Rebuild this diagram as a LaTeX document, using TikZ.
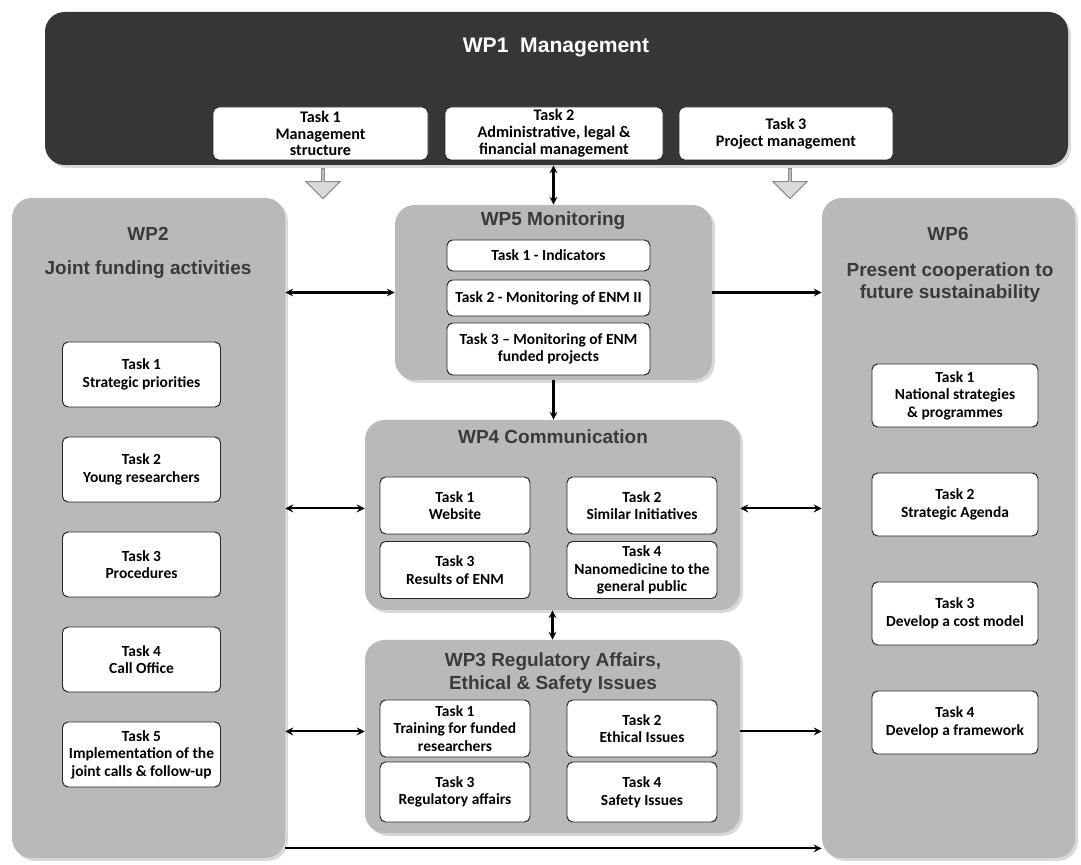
\documentclass[tikz,border=0pt]{standalone}
\usepackage{fontspec}
\setmainfont{Carlito}
\newfontfamily\headfont{Liberation Sans}
\usetikzlibrary{shapes.arrows,shadows,calc}

\definecolor{wpdark}{HTML}{363636}
\definecolor{wpgray}{HTML}{B9B9B9}
\definecolor{wptext}{HTML}{3A3A3A}
\definecolor{blockfill}{HTML}{DADADA}
\definecolor{blockline}{HTML}{8C8C8C}

\newcommand{\pxl}{0.025cm}

\tikzset{
	wpbox/.style 2 args={draw=none, fill=wpgray, rounded corners=14pt, minimum width=#1*\pxl, minimum height=#2*\pxl, inner sep=0pt, drop shadow={opacity=0.3, shadow xshift=2pt, shadow yshift=-2pt}},
	taskbox/.style 2 args={draw=black!85, fill=white, rounded corners=4pt, line width=0.7pt, minimum width=#1*\pxl, minimum height=#2*\pxl, inner sep=0.5pt, align=center, font=\bfseries\fontsize{11}{12.5}\selectfont},
	wptitle/.style={text=wptext, align=center, font=\headfont\bfseries\fontsize{13.5}{16}\selectfont},
	conn/.style={line width=1.5pt, >=stealth},
	blockarrow/.style={single arrow, draw=blockline, fill=blockfill, line width=0.8pt, minimum width=34*\pxl, single arrow head extend=7*\pxl, minimum height=30*\pxl, inner sep=0pt, rotate=-90}
}

\begin{document}
\begin{tikzpicture}[x=0.025cm, y=-0.025cm]
	\path[use as bounding box, fill=white] (0,0) rectangle (1081,865);

	\node[wpbox={1023}{153}, fill=wpdark] (wp1) at (556.5,88.5) {};
	\node[wptitle, text=white, font=\headfont\bfseries\fontsize{15}{18}\selectfont] (wp1t) at (556,47) {WP1\ \ Management};
	\node[taskbox={215}{53}, font=\bfseries\fontsize{11.5}{12}\selectfont] (wp1t1) at (320.5,133.5) {Task 1\\Management\\structure};
	\node[taskbox={218}{53}, font=\bfseries\fontsize{11.5}{12}\selectfont] (wp1t2) at (554,133.5) {Task 2\\Administrative, legal \&\\financial management};
	\node[taskbox={214}{53}, font=\bfseries\fontsize{11.5}{12}\selectfont] (wp1t3) at (786,133.5) {Task 3\\Project management};

	\node[blockarrow] (ba1) at (323,183) {};
	\node[blockarrow] (ba2) at (790,183) {};

	\node[wpbox={273}{660}] (wp2) at (148.5,528) {};
	\node[wptitle] (wp2t) at (148,234) {WP2};
	\node[wptitle] (wp2s) at (148,270) {Joint funding activities};
	\node[taskbox={158}{65}] (wp2t1) at (141.5,374.5) {Task 1\\Strategic priorities};
	\node[taskbox={158}{65}] (wp2t2) at (141.5,469.5) {Task 2\\Young researchers};
	\node[taskbox={158}{65}] (wp2t3) at (141.5,564.5) {Task 3\\Procedures};
	\node[taskbox={158}{65}] (wp2t4) at (141.5,659.5) {Task 4\\Call Office};
	\node[taskbox={158}{65}] (wp2t5) at (141.5,754.5) {Task 5\\Implementation of the\\joint calls \& follow-up};

	\node[wpbox={253}{660}] (wp6) at (948.5,528) {};
	\node[wptitle] (wp6t) at (948,234) {WP6};
	\node[wptitle] (wp6s) at (950,282.5) {Present cooperation to\\future sustainability};
	\node[taskbox={166}{63}] (wp6t1) at (955,395.5) {Task 1\\National strategies\\\& programmes};
	\node[taskbox={166}{63}] (wp6t2) at (955,504.5) {Task 2\\Strategic Agenda};
	\node[taskbox={166}{63}] (wp6t3) at (955,613.5) {Task 3\\Develop a cost model};
	\node[taskbox={166}{63}] (wp6t4) at (955,722.5) {Task 4\\Develop a framework};

	\node[wpbox={317}{175}] (wp5) at (553.5,292.5) {};
	\node[wptitle] (wp5t) at (553,221) {WP5 Monitoring};
	\node[taskbox={203}{31}] (wp5t1) at (548.5,255.5) {Task 1 - Indicators};
	\node[taskbox={203}{36}] (wp5t2) at (548.5,298) {Task 2 - Monitoring of ENM II};
	\node[taskbox={203}{52}] (wp5t3) at (548.5,349) {Task 3 – Monitoring of ENM\\funded projects};

	\node[wpbox={375}{190}] (wp4) at (552.5,515) {};
	\node[wptitle] (wp4t) at (553,437) {WP4 Communication};
	\node[taskbox={150}{57}] (wp4t1) at (455,505.5) {Task 1\\Website};
	\node[taskbox={150}{57}] (wp4t2) at (642,505.5) {Task 2\\Similar Initiatives};
	\node[taskbox={150}{57}] (wp4t3) at (455,570) {Task 3\\Results of ENM};
	\node[taskbox={150}{57}] (wp4t4) at (642,570) {Task 4\\Nanomedicine to the\\general public};

	\node[wpbox={375}{193}] (wp3) at (552.5,736.5) {};
	\node[wptitle] (wp3t) at (553,673) {WP3 Regulatory Affairs,\\Ethical \& Safety Issues};
	\node[taskbox={150}{57}] (wp3t1) at (455,728.5) {Task 1\\Training for funded\\researchers};
	\node[taskbox={150}{57}] (wp3t2) at (642,728.5) {Task 2\\Ethical Issues};
	\node[taskbox={150}{60}] (wp3t3) at (455,792) {Task 3\\Regulatory affairs};
	\node[taskbox={150}{60}] (wp3t4) at (642,792) {Task 4\\Safety Issues};

	\draw[conn, <->] (wp5.north |- wp1.south) -- (wp5.north);
	\draw[conn, ->] (wp5.south) -- (wp5.south |- wp4.north);
	\draw[conn, <->] (wp4.south) -- (wp3.north);

	\coordinate (lv4) at ($(wp4t1.north)!0.55!(wp4t1.south)$);
	\coordinate (lv3) at ($(wp3t1.north)!0.55!(wp3t1.south)$);
	\coordinate (botl) at ($(wp2.north east)!0.985!(wp2.south east)$);

	\draw[conn, <->] (wp2.east |- wp5.west) -- (wp5.west);
	\draw[conn, ->] (wp5.east) -- (wp6.west |- wp5.east);
	\draw[conn, <->] (wp2.east |- lv4) -- (wp4.west |- lv4);
	\draw[conn, <->] (wp4.east |- lv4) -- (wp6.west |- lv4);
	\draw[conn, <->] (wp2.east |- lv3) -- (wp3.west |- lv3);
	\draw[conn, ->] (wp3.east |- lv3) -- (wp6.west |- lv3);
	\draw[conn, ->] (botl) -- (wp6.west |- botl);
\end{tikzpicture}
\end{document}
